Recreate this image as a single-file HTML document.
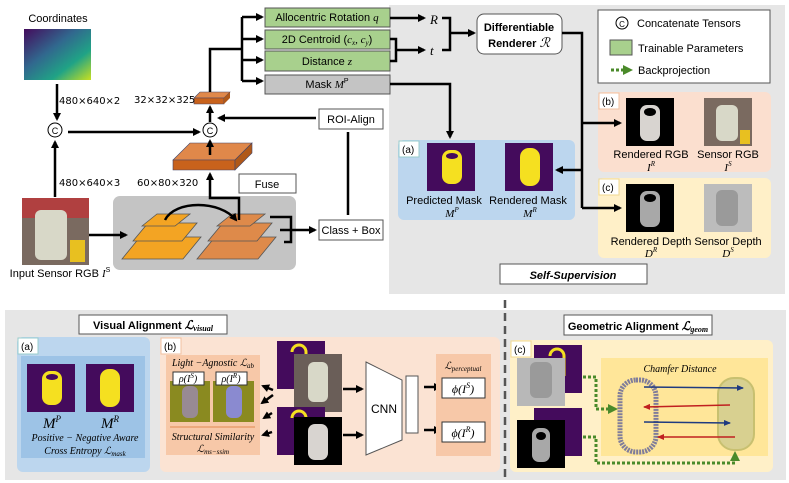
<!DOCTYPE html>
<html><head><meta charset="utf-8"><style>body{margin:0;background:#fff}svg{display:block;font-family:"Liberation Sans",sans-serif}</style></head>
<body>
<svg width="789" height="483" viewBox="0 0 789 483" xmlns="http://www.w3.org/2000/svg">
<defs>
<marker id="ah" markerWidth="8" markerHeight="8" refX="6" refY="4" orient="auto" markerUnits="userSpaceOnUse"><path d="M0,0 L8,4 L0,8 z" fill="#000"/></marker>
<marker id="ahb" markerWidth="7" markerHeight="6" refX="6" refY="3" orient="auto" markerUnits="userSpaceOnUse"><path d="M0,0 L7,3 L0,6 z" fill="#1f3a80"/></marker>
<marker id="ahr" markerWidth="7" markerHeight="6" refX="6" refY="3" orient="auto" markerUnits="userSpaceOnUse"><path d="M0,0 L7,3 L0,6 z" fill="#c02020"/></marker>
<marker id="ahg" markerWidth="10" markerHeight="10" refX="7" refY="5" orient="auto" markerUnits="userSpaceOnUse"><path d="M0,0 L10,5 L0,10 z" fill="#4a8a2a"/></marker>
<linearGradient id="vir" x1="0" y1="0" x2="1" y2="1"><stop offset="0" stop-color="#440b5c"/><stop offset="0.4" stop-color="#31688e"/><stop offset="0.7" stop-color="#20a386"/><stop offset="1" stop-color="#c8e020"/></linearGradient>
</defs>
<!-- backgrounds -->
<rect x="389" y="5" width="396" height="289" fill="#e6e6e6"/>
<rect x="5" y="310" width="781" height="170" fill="#e6e6e6"/>
<!-- top left -->
<text x="58" y="22" font-size="11" text-anchor="middle">Coordinates</text>
<rect x="24" y="29" width="67" height="51" fill="url(#vir)"/>
<line x1="57" y1="84" x2="57" y2="119" stroke="#000" stroke-width="2.5" marker-end="url(#ah)"/>
<text x="59" y="104" font-size="10" font-family="DejaVu Sans">480×640×2</text>
<circle cx="55" cy="130" r="7" fill="#fff" stroke="#000"/><text x="55" y="134" font-size="9" text-anchor="middle">C</text>
<line x1="55" y1="197" x2="55" y2="142" stroke="#000" stroke-width="2.5" marker-end="url(#ah)"/>
<text x="59" y="186" font-size="10" font-family="DejaVu Sans">480×640×3</text>
<line x1="68" y1="132" x2="199" y2="132" stroke="#000" stroke-width="2.5" marker-end="url(#ah)"/>
<circle cx="210" cy="130" r="7" fill="#fff" stroke="#000"/><text x="210" y="134" font-size="9" text-anchor="middle">C</text>
<!-- input image -->
<rect x="22" y="198" width="67" height="67" fill="#7a6a60"/>
<rect x="22" y="198" width="67" height="20" fill="#b04040"/>
<rect x="35" y="210" width="32" height="50" rx="6" fill="#d8d8c8"/>
<rect x="70" y="240" width="15" height="22" fill="#e8c020"/>
<text x="60" y="277" font-size="11" text-anchor="middle">Input Sensor RGB <tspan font-style="italic" font-family="Liberation Serif">I</tspan><tspan font-size="7" dy="-5">S</tspan></text>
<!-- gray backbone -->
<rect x="113" y="196" width="183" height="74" rx="7" fill="#c4c4c4"/>
<line x1="89" y1="235" x2="126" y2="235" stroke="#000" stroke-width="2.5" marker-end="url(#ah)"/>
<g stroke="#555" stroke-width="0.8" fill="#f3a423">
<polygon points="122,259 140,237 201,237 183,259"/>
<polygon points="133,241 148,223 197,223 182,241"/>
<polygon points="142,226 157,214 190,214 175,226"/>
</g>
<g stroke="#555" stroke-width="0.8" fill="#de8a4a">
<polygon points="197,259 215,237 276,237 258,259"/>
<polygon points="208,241 223,223 272,223 257,241"/>
<polygon points="217,226 232,214 265,214 250,226"/>
</g>
<path d="M165,220 C175,200 220,200 236,220" stroke="#000" stroke-width="2.5" fill="none" marker-end="url(#ah)"/>
<polyline points="270,217 291,217 291,242 284,242" stroke="#000" stroke-width="2.5" fill="none"/>
<line x1="280" y1="230" x2="315" y2="230" stroke="#000" stroke-width="2.5" marker-end="url(#ah)"/>
<rect x="319" y="220" width="64" height="20" fill="#fff" stroke="#555"/><text x="351" y="234" font-size="11" text-anchor="middle">Class + Box</text>
<line x1="348" y1="132" x2="348" y2="215" stroke="#000" stroke-width="2.5"/>
<rect x="319" y="109" width="64" height="20" fill="#fff" stroke="#555"/><text x="351" y="123" font-size="11" text-anchor="middle">ROI-Align</text>
<line x1="316" y1="118" x2="219" y2="118" stroke="#000" stroke-width="2.5" marker-end="url(#ah)"/>
<rect x="239" y="174" width="57" height="19" fill="#fff" stroke="#555"/><text x="267" y="188" font-size="11" text-anchor="middle">Fuse</text>
<polyline points="239,220 239,198 210,198 210,174" stroke="#000" stroke-width="2.5" fill="none" marker-end="url(#ah)"/>
<!-- big slab -->
<polygon points="173,160 190,143 252,143 235,160" fill="#e0884a" stroke="#446" stroke-width="0.6"/>
<polygon points="173,160 235,160 235,170 173,170" fill="#c8621c" stroke="#446" stroke-width="0.6"/>
<polygon points="235,160 252,143 252,153 235,170" fill="#b05818" stroke="#446" stroke-width="0.6"/>
<line x1="210" y1="155" x2="210" y2="141" stroke="#000" stroke-width="2.5" marker-end="url(#ah)"/>
<text x="137" y="186" font-size="10" font-family="DejaVu Sans">60×80×320</text>
<line x1="210" y1="122" x2="210" y2="107" stroke="#000" stroke-width="2.5" marker-end="url(#ah)"/>
<polygon points="194,98 200,92 230,92 224,98" fill="#e0884a" stroke="#446" stroke-width="0.6"/>
<polygon points="194,98 224,98 224,104 194,104" fill="#c8621c" stroke="#446" stroke-width="0.6"/>
<polygon points="224,98 230,92 230,98 224,104" fill="#b05818"/>
<text x="134" y="103" font-size="10" font-family="DejaVu Sans">32×32×325</text>
<polyline points="210,92 210,49 242,49" stroke="#000" stroke-width="2.5" fill="none"/>
<line x1="242" y1="17" x2="242" y2="81" stroke="#000" stroke-width="2.5"/>
<g stroke="#000" stroke-width="2.5" marker-end="url(#ah)">
<line x1="242" y1="17" x2="262" y2="17"/><line x1="242" y1="39" x2="262" y2="39"/><line x1="242" y1="60" x2="262" y2="60"/><line x1="242" y1="81" x2="262" y2="81"/>
</g>
<g font-size="11" text-anchor="middle" stroke="#555">
<rect x="265" y="8" width="125" height="19" fill="#a8d08d"/>
<rect x="265" y="30" width="125" height="19" fill="#a8d08d"/>
<rect x="265" y="51" width="125" height="20" fill="#a8d08d"/>
<rect x="265" y="75" width="125" height="19" fill="#c4c4c4"/>
</g>
<g font-size="11" text-anchor="middle">
<text x="327" y="21">Allocentric Rotation <tspan font-style="italic" font-family="Liberation Serif">q</tspan></text>
<text x="327" y="43">2D Centroid (<tspan font-style="italic" font-family="Liberation Serif">c<tspan font-size="7" dy="2">x</tspan><tspan dy="-2">, c</tspan><tspan font-size="7" dy="2">y</tspan></tspan><tspan dy="-2">)</tspan></text>
<text x="327" y="65">Distance <tspan font-style="italic" font-family="Liberation Serif">z</tspan></text>
<text x="327" y="88">Mask <tspan font-style="italic" font-family="Liberation Serif">M</tspan><tspan font-size="7" dy="-5">P</tspan></text>
</g>
<!-- right of boxes -->
<line x1="390" y1="18" x2="424" y2="18" stroke="#000" stroke-width="2.5" marker-end="url(#ah)"/>
<polyline points="390,39 396,39 396,61 390,61" stroke="#000" stroke-width="2.5" fill="none"/>
<line x1="396" y1="50" x2="424" y2="50" stroke="#000" stroke-width="2.5" marker-end="url(#ah)"/>
<text x="430" y="24" font-size="13" font-style="italic" font-family="Liberation Serif">R</text>
<text x="430" y="55" font-size="13" font-style="italic" font-family="Liberation Serif">t</text>
<polyline points="442,18 450,18 450,50 442,50" stroke="#000" stroke-width="2.5" fill="none"/>
<line x1="450" y1="33" x2="474" y2="33" stroke="#000" stroke-width="2.5" marker-end="url(#ah)"/>
<rect x="477" y="14" width="85" height="40" rx="7" fill="#fff" stroke="#555"/>
<text x="519" y="31" font-size="11" font-weight="bold" text-anchor="middle">Differentiable</text>
<text x="519" y="47" font-size="11" font-weight="bold" text-anchor="middle">Renderer <tspan font-style="italic" font-weight="normal" font-family="Liberation Serif" font-size="13">ℛ</tspan></text>
<polyline points="390,84 450,84 450,137" stroke="#000" stroke-width="2.5" fill="none" marker-end="url(#ah)"/>
<!-- legend -->
<rect x="598" y="10" width="172" height="73" fill="#fff" stroke="#555"/>
<circle cx="622" cy="23" r="6" fill="#fff" stroke="#000"/><text x="622" y="27" font-size="8" text-anchor="middle">C</text>
<text x="637" y="27" font-size="11">Concatenate Tensors</text>
<rect x="610" y="40" width="22" height="15" fill="#a8d08d" stroke="#555"/>
<text x="638" y="52" font-size="11">Trainable Parameters</text>
<line x1="611" y1="70" x2="623" y2="70" stroke="#4a8a2a" stroke-width="3" stroke-dasharray="3,2"/>
<path d="M623,65 L633,70 L623,75 z" fill="#4a8a2a"/>
<text x="638" y="74" font-size="11">Backprojection</text>
<!-- (b),(c),(a) -->
<rect x="598" y="92" width="173" height="80" rx="6" fill="#fbdfcf"/>
<rect x="598" y="178" width="173" height="80" rx="6" fill="#fff0c8"/>
<rect x="398" y="140" width="177" height="80" rx="6" fill="#bcd6ee"/>
<g font-size="10"><rect x="599" y="93" width="20" height="16" fill="#fff" stroke="#f0c0a0"/><text x="602" y="105">(b)</text>
<rect x="599" y="179" width="20" height="16" fill="#fff" stroke="#f0d890"/><text x="602" y="191">(c)</text>
<rect x="399" y="141" width="20" height="16" fill="#fff" stroke="#9cc"/><text x="402" y="153">(a)</text></g>
<polyline points="562,33 582,33 582,208" stroke="#000" stroke-width="2.5" fill="none"/>
<line x1="582" y1="123" x2="620" y2="123" stroke="#000" stroke-width="2.5" marker-end="url(#ah)"/>
<line x1="582" y1="208" x2="620" y2="208" stroke="#000" stroke-width="2.5" marker-end="url(#ah)"/>
<line x1="582" y1="170" x2="557" y2="170" stroke="#000" stroke-width="2.5" marker-end="url(#ah)"/>
<!-- (a) images -->
<rect x="427" y="143" width="48" height="48" fill="#440b5c"/><rect x="442" y="150" width="20" height="34" rx="8" fill="#f5e020"/><ellipse cx="452" cy="156" rx="6" ry="3" fill="#440b5c"/>
<rect x="505" y="143" width="48" height="48" fill="#440b5c"/><rect x="520" y="148" width="20" height="38" rx="9" fill="#f5e020"/>
<g font-size="11" text-anchor="middle"><text x="444" y="204">Predicted  Mask</text><text x="528" y="204">Rendered Mask</text>
<text x="452" y="217" font-style="italic" font-family="Liberation Serif">M<tspan font-size="7" dy="-5">P</tspan></text><text x="530" y="217" font-style="italic" font-family="Liberation Serif">M<tspan font-size="7" dy="-5">R</tspan></text></g>
<!-- (b) images -->
<rect x="626" y="98" width="48" height="48" fill="#000"/><rect x="640" y="105" width="20" height="36" rx="7" fill="#d8d4d0"/><ellipse cx="650" cy="112" rx="6" ry="4" fill="#000"/>
<rect x="704" y="98" width="48" height="48" fill="#7a6a60"/><rect x="716" y="105" width="22" height="36" rx="6" fill="#d8d8c8"/><rect x="740" y="130" width="10" height="14" fill="#e8c020"/>
<g font-size="11" text-anchor="middle"><text x="651" y="158">Rendered RGB</text><text x="728" y="158">Sensor RGB</text>
<text x="651" y="171" font-style="italic" font-family="Liberation Serif">I<tspan font-size="7" dy="-5">R</tspan></text><text x="728" y="171" font-style="italic" font-family="Liberation Serif">I<tspan font-size="7" dy="-5">S</tspan></text></g>
<!-- (c) images -->
<rect x="626" y="184" width="48" height="48" fill="#000"/><rect x="640" y="191" width="20" height="36" rx="7" fill="#a8a8a8"/><ellipse cx="650" cy="198" rx="6" ry="4" fill="#000"/>
<rect x="704" y="184" width="48" height="48" fill="#bcbcbc"/><rect x="716" y="190" width="22" height="36" rx="6" fill="#9a9a9a"/>
<g font-size="11" text-anchor="middle"><text x="651" y="245">Rendered Depth</text><text x="728" y="245">Sensor Depth</text>
<text x="651" y="257" font-style="italic" font-family="Liberation Serif">D<tspan font-size="7" dy="-5">R</tspan></text><text x="728" y="257" font-style="italic" font-family="Liberation Serif">D<tspan font-size="7" dy="-5">S</tspan></text></g>
<rect x="500" y="264" width="147" height="20" fill="#fff" stroke="#555"/>
<text x="573" y="279" font-size="11" font-weight="bold" font-style="italic" text-anchor="middle">Self-Supervision</text>

<!-- bottom -->
<line x1="505" y1="300" x2="505" y2="481" stroke="#555" stroke-width="2.5" stroke-dasharray="8,5"/>
<rect x="79" y="315" width="148" height="19" fill="#fff" stroke="#555"/>
<text x="153" y="329" font-size="11" font-weight="bold" text-anchor="middle">Visual Alignment <tspan font-style="italic" font-family="Liberation Serif" font-size="12">ℒ<tspan font-size="8" dy="2">visual</tspan></tspan></text>
<rect x="17" y="337" width="133" height="135" rx="6" fill="#bcd6ee"/>
<rect x="21" y="356" width="124" height="102" fill="#9dc3e6"/>
<rect x="18" y="338" width="20" height="16" fill="#fff" stroke="#9cc"/><text x="21" y="350" font-size="10">(a)</text>
<rect x="27" y="364" width="48" height="48" fill="#440b5c"/><rect x="42" y="371" width="20" height="34" rx="8" fill="#f5e020"/><ellipse cx="52" cy="377" rx="6" ry="3" fill="#440b5c"/>
<rect x="86" y="364" width="48" height="48" fill="#440b5c"/><rect x="100" y="369" width="20" height="38" rx="9" fill="#f5e020"/>
<g font-style="italic" font-family="Liberation Serif" text-anchor="middle"><text x="52" y="428" font-size="15">M<tspan font-size="9" dy="-6">P</tspan></text><text x="110" y="428" font-size="15">M<tspan font-size="9" dy="-6">R</tspan></text>
<text x="85" y="441" font-size="10">Positive − Negative  Aware</text><text x="85" y="454" font-size="10">Cross Entropy  ℒ<tspan font-size="7" dy="2">mask</tspan></text></g>
<rect x="160" y="337" width="340" height="135" rx="6" fill="#fbe3d3"/>
<rect x="161" y="338" width="20" height="16" fill="#fff" stroke="#f0c0a0"/><text x="164" y="350" font-size="10">(b)</text>
<rect x="166" y="355" width="94" height="100" fill="#f7c8a8"/>
<text x="213" y="366" font-size="10" font-style="italic" font-family="Liberation Serif" text-anchor="middle">Light −Agnostic ℒ<tspan font-size="7" dy="2">ab</tspan></text>
<rect x="170" y="381" width="40" height="41" fill="#8a8a20"/><rect x="213" y="381" width="41" height="41" fill="#8a8a20"/>
<rect x="182" y="386" width="16" height="32" rx="6" fill="#9b8ab0" opacity="0.8"/><rect x="226" y="386" width="16" height="32" rx="6" fill="#8a8ad0"/>
<rect x="173" y="372" width="31" height="13" fill="#fff" stroke="#333"/><rect x="216" y="372" width="31" height="13" fill="#fff" stroke="#333"/>
<g font-size="10" font-style="italic" font-family="Liberation Serif" text-anchor="middle"><text x="188" y="382">ρ(I<tspan font-size="7" dy="-4">S</tspan><tspan dy="4">)</tspan></text><text x="231" y="382">ρ(I<tspan font-size="7" dy="-4">R</tspan><tspan dy="4">)</tspan></text></g>
<line x1="170" y1="427" x2="255" y2="427" stroke="#e08850"/>
<text x="213" y="440" font-size="10" font-style="italic" font-family="Liberation Serif" text-anchor="middle">Structural Similarity</text>
<text x="213" y="452" font-size="10" font-style="italic" font-family="Liberation Serif" text-anchor="middle">ℒ<tspan font-size="7" dy="2">ms−ssim</tspan></text>
<rect x="277" y="341" width="48" height="48" fill="#440b5c"/><path d="M292,352 a6,6 0 0 1 14,0 v10" stroke="#f5e020" stroke-width="3" fill="none"/>
<rect x="294" y="354" width="48" height="58" fill="#6a5e58"/><rect x="308" y="362" width="20" height="40" rx="6" fill="#d8d8c8"/>
<rect x="277" y="407" width="48" height="48" fill="#440b5c"/><path d="M292,418 a6,6 0 0 1 14,0 v10" stroke="#f5e020" stroke-width="3" fill="none"/>
<rect x="294" y="417" width="48" height="48" fill="#000"/><rect x="308" y="424" width="20" height="36" rx="7" fill="#d8d4d0"/>
<g stroke="#000" stroke-width="2.5" marker-end="url(#ah)">
<line x1="343" y1="389" x2="362" y2="389"/><line x1="343" y1="435" x2="362" y2="435"/>
<line x1="273" y1="390" x2="263" y2="386"/><line x1="273" y1="395" x2="262" y2="403"/>
<line x1="272" y1="413" x2="264" y2="418"/><line x1="272" y1="432" x2="263" y2="435"/>
</g>
<polygon points="366,362 402,380 402,440 366,455" fill="#fff" stroke="#555"/>
<text x="384" y="413" font-size="12" text-anchor="middle">CNN</text>
<rect x="406" y="376" width="12" height="57" fill="#fff" stroke="#555"/>
<line x1="424" y1="387" x2="440" y2="387" stroke="#000" stroke-width="2.5" marker-end="url(#ah)"/>
<line x1="424" y1="430" x2="440" y2="430" stroke="#000" stroke-width="2.5" marker-end="url(#ah)"/>
<rect x="436" y="354" width="55" height="102" fill="#f7c8a8"/>
<text x="463" y="369" font-size="10" font-style="italic" font-family="Liberation Serif" text-anchor="middle">ℒ<tspan font-size="7" dy="2">perceptual</tspan></text>
<rect x="442" y="378" width="43" height="20" fill="#fff" stroke="#333"/><rect x="442" y="422" width="43" height="20" fill="#fff" stroke="#333"/>
<g font-size="12" font-style="italic" font-family="Liberation Serif" text-anchor="middle"><text x="463" y="393">ϕ(I<tspan font-size="8" dy="-5">S</tspan><tspan dy="5">)</tspan></text><text x="463" y="437">ϕ(I<tspan font-size="8" dy="-5">R</tspan><tspan dy="5">)</tspan></text></g>
<!-- geometric -->
<rect x="564" y="315" width="148" height="20" fill="#fff" stroke="#555"/>
<text x="638" y="330" font-size="11" font-weight="bold" text-anchor="middle">Geometric Alignment <tspan font-style="italic" font-family="Liberation Serif" font-size="12">ℒ<tspan font-size="8" dy="2">geom</tspan></tspan></text>
<rect x="510" y="340" width="263" height="132" rx="6" fill="#fff0c8"/>
<rect x="511" y="341" width="20" height="16" fill="#fff" stroke="#f0d890"/><text x="514" y="353" font-size="10">(c)</text>
<rect x="534" y="345" width="48" height="48" fill="#440b5c"/><path d="M550,356 a6,6 0 0 1 14,0 v20" stroke="#f5e020" stroke-width="3" fill="none"/>
<rect x="517" y="358" width="48" height="48" fill="#b8b8b8"/><rect x="530" y="362" width="22" height="36" rx="6" fill="#9a9a9a"/>
<rect x="534" y="408" width="48" height="48" fill="#440b5c"/>
<rect x="517" y="420" width="48" height="48" fill="#000"/><rect x="532" y="428" width="18" height="34" rx="7" fill="#a8a8a8"/><ellipse cx="541" cy="436" rx="5" ry="4" fill="#000"/>
<rect x="601" y="358" width="167" height="98" fill="#ffe699"/>
<text x="680" y="372" font-size="10" font-style="italic" font-family="Liberation Serif" text-anchor="middle">Chamfer Distance</text>
<rect x="620" y="380" width="36" height="72" rx="16" fill="none" stroke="#6a6a9a" stroke-width="5" stroke-dasharray="2,1" opacity="0.85"/>
<rect x="718" y="378" width="36" height="72" rx="16" fill="#d8d090" stroke="#c8c070" stroke-width="2"/>
<g stroke-width="1.5">
<line x1="644" y1="387" x2="743" y2="388" stroke="#1f3a80" marker-end="url(#ahb)"/>
<line x1="730" y1="405" x2="644" y2="407" stroke="#c02020" marker-end="url(#ahr)"/>
<line x1="644" y1="422" x2="730" y2="423" stroke="#1f3a80" marker-end="url(#ahb)"/>
<line x1="735" y1="437" x2="658" y2="437" stroke="#c02020" marker-end="url(#ahr)"/>
</g>
<polyline points="583,377 596,377 596,409 615,409" stroke="#4a8a2a" stroke-width="3" stroke-dasharray="3,2" fill="none" marker-end="url(#ahg)"/>
<polyline points="583,437 596,437 596,463 735,463 735,454" stroke="#4a8a2a" stroke-width="3" stroke-dasharray="3,2" fill="none" marker-end="url(#ahg)"/>
</svg>
</body></html>
